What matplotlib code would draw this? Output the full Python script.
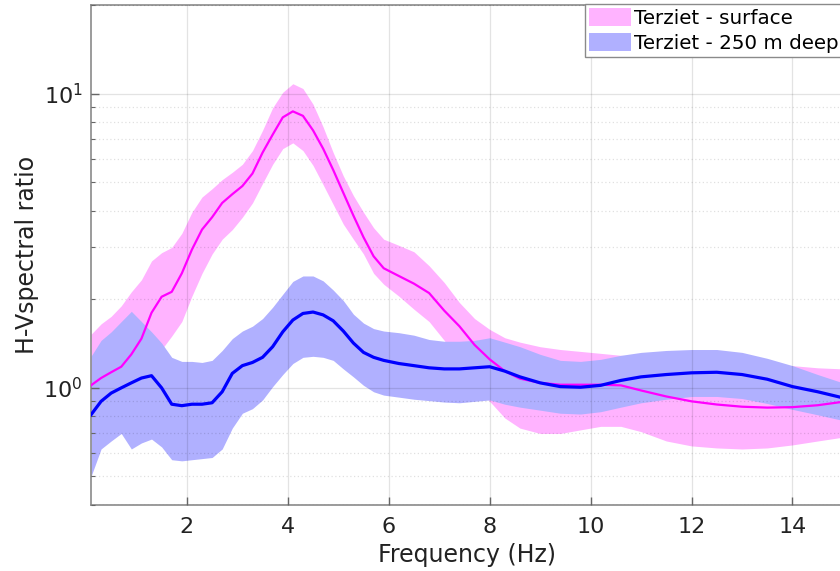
"""H/V spectral ratio, Terziet: surface vs 250 m deep (mean +/- band)."""
import matplotlib

matplotlib.use("Agg")
import matplotlib.pyplot as plt  # noqa: E402
from matplotlib.patches import Patch  # noqa: E402
from matplotlib.ticker import LogLocator, NullFormatter  # noqa: E402

freq = [0.1, 0.3, 0.5, 0.7, 0.9, 1.1, 1.3, 1.5, 1.7, 1.9,
        2.1, 2.3, 2.5, 2.7, 2.9, 3.1, 3.3, 3.5, 3.7, 3.9,
        4.1, 4.3, 4.5, 4.7, 4.9, 5.1, 5.3, 5.5, 5.7, 5.9,
        6.2, 6.5, 6.8, 7.1, 7.4, 7.7, 8.0, 8.3, 8.6, 9.0,
        9.4, 9.8, 10.2, 10.6, 11.0, 11.5, 12.0, 12.5, 13.0, 13.5,
        14.0, 14.5, 15.0]

# Terziet - surface
surf_mean = [1.02, 1.08, 1.13, 1.18, 1.30, 1.47, 1.80, 2.04, 2.12, 2.45,
             2.95, 3.45, 3.80, 4.25, 4.55, 4.85, 5.35, 6.30, 7.25, 8.30,
             8.70, 8.40, 7.50, 6.50, 5.50, 4.60, 3.85, 3.25, 2.80, 2.55,
             2.40, 2.26, 2.10, 1.83, 1.62, 1.40, 1.25, 1.14, 1.075, 1.04,
             1.025, 1.025, 1.025, 1.02, 0.98, 0.935, 0.90, 0.878, 0.863, 0.857,
             0.860, 0.873, 0.897]
surf_hi = [1.52, 1.65, 1.75, 1.90, 2.12, 2.33, 2.70, 2.88, 3.00, 3.35,
           3.95, 4.45, 4.75, 5.10, 5.40, 5.75, 6.40, 7.50, 8.95, 10.1,
           10.8, 10.4, 9.20, 7.70, 6.30, 5.25, 4.50, 3.95, 3.50, 3.20,
           3.05, 2.90, 2.60, 2.28, 1.95, 1.72, 1.58, 1.48, 1.43, 1.38,
           1.35, 1.33, 1.31, 1.29, 1.28, 1.27, 1.26, 1.24, 1.22, 1.20,
           1.19, 1.17, 1.16]
surf_lo = [0.80, 0.85, 0.90, 0.95, 1.02, 1.12, 1.25, 1.35, 1.50, 1.68,
           2.05, 2.45, 2.85, 3.20, 3.45, 3.80, 4.25, 4.95, 5.75, 6.50,
           6.80, 6.40, 5.70, 4.90, 4.20, 3.60, 3.20, 2.85, 2.45, 2.25,
           2.05, 1.85, 1.68, 1.45, 1.22, 1.02, 0.90, 0.79, 0.73, 0.70,
           0.70, 0.72, 0.74, 0.74, 0.71, 0.66, 0.635, 0.625, 0.62, 0.625,
           0.64, 0.66, 0.68]

# Terziet - 250 m deep
deep_mean = [0.81, 0.90, 0.96, 1.00, 1.04, 1.08, 1.10, 1.00, 0.88, 0.87,
             0.88, 0.88, 0.89, 0.97, 1.12, 1.19, 1.22, 1.27, 1.38, 1.55,
             1.70, 1.79, 1.81, 1.77, 1.69, 1.56, 1.42, 1.32, 1.27, 1.24,
             1.21, 1.19, 1.17, 1.16, 1.16, 1.17, 1.18, 1.14, 1.09, 1.04,
             1.01, 1.005, 1.02, 1.06, 1.09, 1.11, 1.125, 1.13, 1.11, 1.07,
             1.01, 0.97, 0.925]
deep_hi = [1.28, 1.45, 1.55, 1.68, 1.82, 1.68, 1.55, 1.42, 1.27, 1.23,
           1.23, 1.22, 1.24, 1.34, 1.47, 1.56, 1.62, 1.72, 1.88, 2.08,
           2.30, 2.40, 2.40, 2.31, 2.15, 1.98, 1.78, 1.66, 1.59, 1.56,
           1.54, 1.51, 1.46, 1.44, 1.44, 1.45, 1.48, 1.43, 1.38, 1.30,
           1.24, 1.23, 1.25, 1.29, 1.32, 1.34, 1.35, 1.35, 1.32, 1.26,
           1.19, 1.11, 1.04]
deep_lo = [0.50, 0.62, 0.66, 0.70, 0.62, 0.65, 0.67, 0.63, 0.57, 0.565,
           0.57, 0.575, 0.58, 0.62, 0.73, 0.82, 0.85, 0.91, 1.01, 1.11,
           1.21, 1.27, 1.28, 1.27, 1.24, 1.16, 1.09, 1.02, 0.97, 0.945,
           0.93, 0.915, 0.905, 0.895, 0.89, 0.90, 0.91, 0.88, 0.86, 0.84,
           0.82, 0.815, 0.83, 0.86, 0.89, 0.915, 0.935, 0.935, 0.92, 0.885,
           0.845, 0.81, 0.775]

PINK_FILL = "#ffb3ff"
BLUE_FILL = "#b0b0ff"

plt.rcParams["font.family"] = ["DejaVu Sans"]

fig = plt.figure(figsize=(8.4, 5.71), dpi=100)
ax = fig.add_axes([0.1083, 0.1156, 0.8952, 0.8757])

ax.fill_between(freq, surf_lo, surf_hi, color=PINK_FILL, lw=0, zorder=1)
ax.fill_between(freq, deep_lo, deep_hi, color=BLUE_FILL, lw=0, zorder=2)
ax.plot(freq, surf_mean, color="#ff00ff", lw=1.6, zorder=3)
ax.plot(freq, deep_mean, color="#0000ff", lw=2.3, zorder=4)

ax.set_yscale("log")
ax.set_xlim(0.1, 15)
ax.set_ylim(0.4, 20)
ax.set_xticks(range(2, 15, 2))
ax.yaxis.set_major_locator(LogLocator(base=10, numticks=5))
ax.yaxis.set_minor_locator(LogLocator(base=10, subs=range(2, 10), numticks=20))
ax.yaxis.set_minor_formatter(NullFormatter())

# grid drawn over the bands, like the original
ax.set_axisbelow(False)
ax.grid(True, which="major", color="k", alpha=0.11, lw=0.9, zorder=5)
ax.grid(True, which="minor", axis="y", color="k", alpha=0.12, lw=0.9,
        ls=(0, (1, 2)), zorder=5)

for side in ("top", "left", "bottom", "right"):
    ax.spines[side].set_color("#8a8a8a")
    ax.spines[side].set_linewidth(1.2)
ax.tick_params(which="major", direction="in", length=6, width=1, color="#666666",
               labelsize=16, labelcolor="#222222")
ax.tick_params(axis="y", which="major", pad=6)
ax.tick_params(axis="x", which="major", pad=9)
ax.tick_params(which="minor", direction="in", length=3, width=0.8, color="#666666")

ax.set_xlabel("Frequency (Hz)", fontsize=17, color="#222222", labelpad=4)
ax.set_ylabel("H-Vspectral ratio", fontsize=17, color="#222222", labelpad=3)

handles = [Patch(facecolor=PINK_FILL, edgecolor="none"),
           Patch(facecolor=BLUE_FILL, edgecolor="none")]
leg = ax.legend(handles, ["Terziet - surface", "Terziet - 250 m deep"],
                loc="upper left", bbox_to_anchor=(585 / 840, 1 - 4 / 571),
                bbox_transform=fig.transFigure, borderaxespad=0, fontsize=14.3,
                fancybox=False, framealpha=1, edgecolor="#8a8a8a",
                handlelength=2.1, handleheight=1.05, handletextpad=0.15,
                labelspacing=0.25, borderpad=0.2)
leg.get_frame().set_linewidth(1.0)
leg.set_zorder(10)

fig.savefig("out.png", dpi=100)
plt.close(fig)
